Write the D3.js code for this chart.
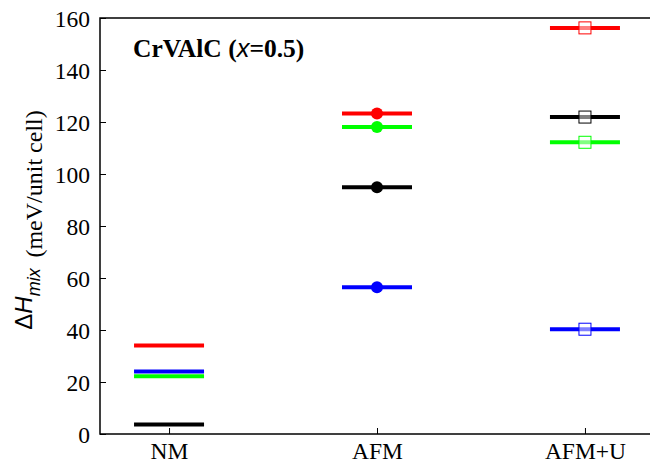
<!DOCTYPE html>
<html><head><meta charset="utf-8">
<script src="https://cdn.jsdelivr.net/npm/d3@7"></script>
<style>
body{margin:0;background:#fff;}
svg{display:block;}
.serif{font-family:"Liberation Serif","Times New Roman",Times,"Nimbus Roman","DejaVu Serif",serif !important;}
.sans{font-family:"Liberation Sans",Arial,Helvetica,sans-serif !important;}
</style></head>
<body><svg id="c" width="650" height="464"></svg>
<script>
const categories = ["NM", "AFM", "AFM+U"];
const markerTypes = ["none", "circle", "square"];
const blackVals = [3.7, 94.9, 121.9];
const redVals = [34, 123.3, 156.2];
const greenVals = [22.2, 118.1, 112.2];
const blueVals = [24, 56.4, 40.3];
const yTicks = [0, 20, 40, 60, 80, 100, 120, 140, 160];

const colors = {black: "#000000", red: "#ff0000", green: "#00ff00", blue: "#0000ff"};
const seriesVals = {black: blackVals, red: redVals, green: greenVals, blue: blueVals};

const svg = d3.select("#c");
const L = 100, T = 18, B = 434, R = 654;
const x = d3.scaleLinear().domain([0.668, 3.332]).range([L, R]);
const y = d3.scaleLinear().domain([0, 160]).range([B, T]);

svg.append("rect").attr("x", L).attr("y", T).attr("width", R - L).attr("height", B - T)
  .attr("fill", "none").attr("stroke", "#000").attr("stroke-width", 1.5);

const yAxis = d3.axisLeft(y).tickValues(yTicks).tickSizeInner(-6).tickSizeOuter(0).tickPadding(10);
const gy = svg.append("g").attr("transform", `translate(${L},0)`).call(yAxis);
gy.select(".domain").remove();
gy.selectAll("line").attr("stroke", "#000").attr("stroke-width", 1);
gy.selectAll("text").attr("class", "serif").attr("font-size", 23.5).attr("fill", "#000").attr("dy", "0.35em");

const xAxis = d3.axisBottom(x).tickValues([1, 2, 3]).tickFormat((d, i) => categories[i])
  .tickSizeInner(-6).tickSizeOuter(0).tickPadding(8);
const gx = svg.append("g").attr("transform", `translate(0,${B})`).call(xAxis);
gx.select(".domain").remove();
gx.selectAll("line").attr("stroke", "#000").attr("stroke-width", 1);
gx.selectAll("text").attr("class", "serif").attr("font-size", 23.5).attr("fill", "#000").attr("dy", "0.71em");

const halfW = 35;
["black", "red", "green", "blue"].forEach(name => {
  const vals = seriesVals[name];
  const g = svg.append("g");
  vals.forEach((v, i) => {
    const cx = x(i + 1), cy = y(v);
    g.append("line").attr("x1", cx - halfW).attr("x2", cx + halfW)
      .attr("y1", cy).attr("y2", cy).attr("stroke", colors[name]).attr("stroke-width", 4);
    if (markerTypes[i] === "circle") {
      g.append("circle").attr("cx", cx).attr("cy", cy).attr("r", 6).attr("fill", colors[name]);
    } else if (markerTypes[i] === "square") {
      g.append("rect").attr("x", cx - 6).attr("y", cy - 6).attr("width", 12).attr("height", 12)
        .attr("fill", "rgba(255,255,255,0.5)").attr("stroke", colors[name]).attr("stroke-width", 1);
    }
  });
});

const t = svg.append("text").attr("class", "serif").attr("x", 133).attr("y", 57).attr("font-size", 25.5)
  .attr("font-weight", "bold").attr("fill", "#000");
t.append("tspan").text("CrVAlC (");
t.append("tspan").attr("class", "sans").text("x").attr("font-style", "italic").attr("font-weight", "normal");
t.append("tspan").text("=0.5)");

const yl = svg.append("text").attr("class", "serif").attr("transform", "translate(42,220) rotate(-90)")
  .attr("text-anchor", "middle").attr("font-size", 24).attr("fill", "#000");
yl.append("tspan").attr("class", "sans").text("\u0394").attr("dy", -10);
yl.append("tspan").attr("class", "sans").text("H").attr("font-style", "italic");
yl.append("tspan").attr("class", "sans").text("mix").attr("font-style", "italic").attr("font-size", 18).attr("dy", 8);
yl.append("tspan").text("\u2009 (meV/unit cell)").attr("dy", 2);
</script></body></html>
